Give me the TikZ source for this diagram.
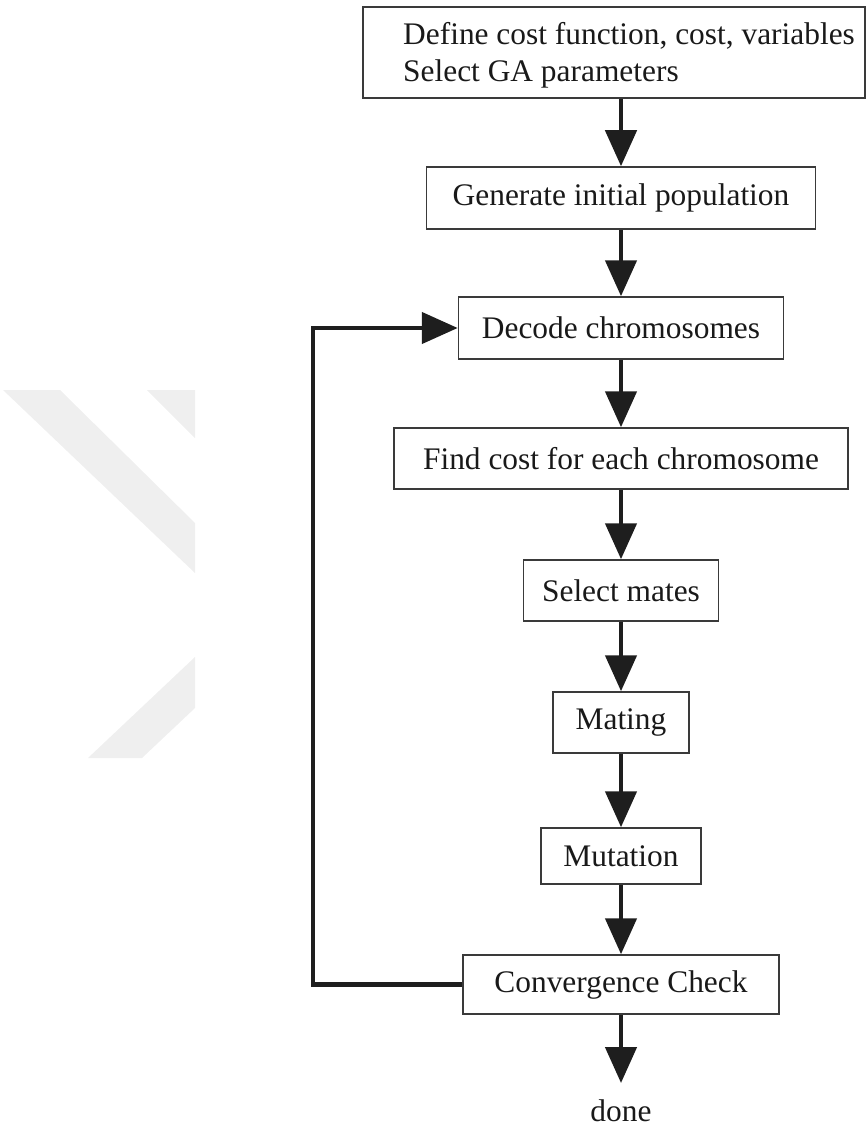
\documentclass[tikz,border=0pt]{standalone}
\usepackage{fontspec}
\setmainfont{Liberation Serif}
\usetikzlibrary{arrows.meta}
\definecolor{wm}{RGB}{239,239,239}
\definecolor{boxline}{RGB}{58,58,58}
\definecolor{arrcol}{RGB}{30,30,30}
\definecolor{txt}{RGB}{25,25,25}
\tikzset{
  box/.style={draw=boxline, line width=1.5pt, rectangle, inner sep=0pt, text=txt,
    font=\fontsize{31.4}{37}\selectfont},
  arr/.style={draw=arrcol, line width=4.6pt, line join=miter,
    -{Triangle[width=31pt,length=36pt]}}
}
\begin{document}
\begin{tikzpicture}[x=1pt,y=-1pt]
\useasboundingbox (0,0) rectangle (867,1126);
% watermark
\fill[wm] (3,390) -- (60,390) -- (195,523) -- (195,573) -- cycle;
\fill[wm] (147,390) -- (195,390) -- (195,438) -- cycle;
\fill[wm] (195,657) -- (195,708) -- (142,758) -- (88,758) -- cycle;
% boxes
\node[box, minimum width=502pt, minimum height=91pt] (def) at (614,52.5) {};
\node[anchor=west, align=left, inner sep=0pt, text=txt, font=\fontsize{31.4}{37}\selectfont] (deft) at (403,55) {Define cost function, cost, variables\\Select GA parameters};
\node[box, minimum width=389pt, minimum height=62pt] (gen) at (621,198) {Generate initial population};
\node[box, minimum width=325pt, minimum height=62pt] (dec) at (621,328) {Decode chromosomes};
\node[box, minimum width=454pt, minimum height=61pt] (find) at (621,458.5) {Find cost for each chromosome};
\node[box, minimum width=195pt, minimum height=61pt] (sel) at (621,590.5) {Select mates};
\node[box, minimum width=136pt, minimum height=61pt] (mat) at (621,722.5) {Mating};
\node[box, minimum width=160pt, minimum height=56pt] (mut) at (621,856) {Mutation};
\node[box, minimum width=316pt, minimum height=59pt] (conv) at (621,984.5) {Convergence Check};
\node[anchor=base, inner sep=0pt, text=txt, font=\fontsize{31.4}{37}\selectfont] (done) at (621,1121) {done};
% connectors
\draw[arr] (def.south -| gen.north) -- (gen.north);
\draw[arr] (gen) -- (dec);
\draw[arr] (dec) -- (find);
\draw[arr] (find) -- (sel);
\draw[arr] (sel) -- (mat);
\draw[arr] (mat) -- (mut);
\draw[arr] (mut) -- (conv);
\draw[arr, shorten >=16pt] (conv.south) -- (done.north);
\coordinate (lp) at (313,984.5);
\draw[arr] (conv.west) -- (lp) |- (dec.west);
\end{tikzpicture}
\end{document}
